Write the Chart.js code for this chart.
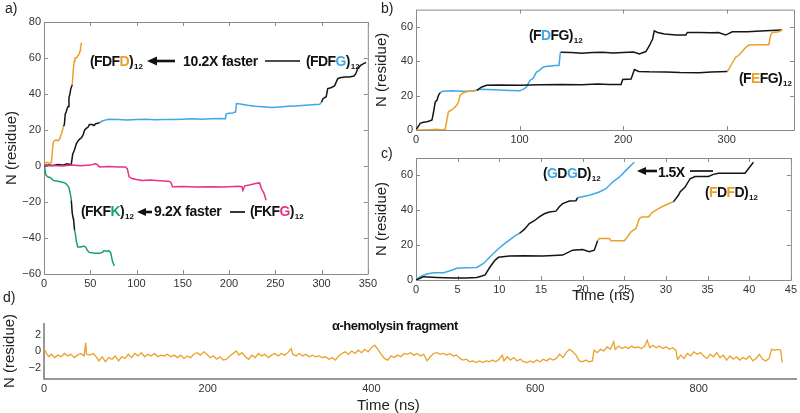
<!DOCTYPE html>
<html>
<head>
<meta charset="utf-8">
<script src="https://cdn.jsdelivr.net/npm/chart.js@4.4.1/dist/chart.umd.min.js"></script>
<style>
body { margin: 0; background: #fff; width: 800px; height: 413px; overflow: hidden; position: relative; font-family: "Liberation Sans", Arial, sans-serif; }
canvas { position: absolute; }
.t { position: absolute; white-space: nowrap; font-weight: bold; font-size: 14px; letter-spacing: -0.6px; line-height: 14px; color: #111; }
.t sub { font-size: 8px; vertical-align: baseline; position: relative; top: 3px; letter-spacing: 0; margin-left: 1px; }
.p { position: absolute; font-size: 14px; line-height: 14px; color: #222; }
.ax { position: absolute; font-size: 15px; line-height: 15px; color: #222; white-space: nowrap; }
.o { color: #EBA02A; } .b { color: #3FA9E6; } .m { color: #E8308A; } .g { color: #1A9E7A; }
svg { position: absolute; left: 0; top: 0; pointer-events: none; }
</style>
</head>
<body>
<canvas id="chartA" width="380" height="300" style="left:0;top:0"></canvas>
<canvas id="chartB" width="430" height="145" style="left:370px;top:0"></canvas>
<canvas id="chartC" width="430" height="160" style="left:370px;top:145px"></canvas>
<canvas id="chartD" width="800" height="113" style="left:0;top:300px"></canvas>

<div class="p" style="left:5px;top:1px">a)</div>
<div class="p" style="left:381px;top:1px">b)</div>
<div class="p" style="left:381px;top:146px">c)</div>
<div class="p" style="left:3px;top:290px">d)</div>

<div class="t" style="left:90px;top:54px">(FDF<span class="o">D</span>)<sub>12</sub></div>
<div class="t" style="left:183px;top:54px;letter-spacing:-0.3px">10.2X faster</div>
<div class="t" style="left:306px;top:54px">(FDF<span class="b">G</span>)<sub>12</sub></div>
<div class="t" style="left:81px;top:204px">(FKF<span class="g">K</span>)<sub>12</sub></div>
<div class="t" style="left:154px;top:204px;letter-spacing:-0.3px">9.2X faster</div>
<div class="t" style="left:250px;top:204px">(FKF<span class="m">G</span>)<sub>12</sub></div>
<div class="t" style="left:529px;top:28px">(F<span class="b">D</span>FG)<sub>12</sub></div>
<div class="t" style="left:739px;top:71px">(F<span class="o">E</span>FG)<sub>12</sub></div>
<div class="t" style="left:543px;top:166px">(<span class="b">G</span>D<span class="b">G</span>D)<sub>12</sub></div>
<div class="t" style="left:658px;top:165px">1.5X</div>
<div class="t" style="left:705px;top:185px">(<span class="o">F</span>D<span class="o">F</span>D)<sub>12</sub></div>
<div class="t" style="left:332px;top:319px;font-size:13px;letter-spacing:-0.5px">α-hemolysin fragment</div>
<div class="ax" style="left:357px;top:397px">Time (ns)</div>

<svg width="800" height="413">
  <polygon points="147,61 157,56.5 157,65.5" fill="#111"/>
  <line x1="155" y1="61" x2="175" y2="61" stroke="#111" stroke-width="2.6"/>
  <line x1="265" y1="61" x2="300" y2="61" stroke="#111" stroke-width="1.7"/>
  <polygon points="137,212 146,208 146,216" fill="#111"/>
  <line x1="144" y1="212" x2="152" y2="212" stroke="#111" stroke-width="2.6"/>
  <line x1="230" y1="212" x2="245" y2="212" stroke="#111" stroke-width="1.7"/>
  <polygon points="637,171 646,167 646,175" fill="#111"/>
  <line x1="644" y1="171" x2="657" y2="171" stroke="#111" stroke-width="2.6"/>
  <line x1="690" y1="171" x2="713" y2="171" stroke="#111" stroke-width="1.7"/>
</svg>

<script>
// ---- panel a : [time (ns), N (residue)]
const aFdfdOrange1 = [[0,1],[3,2],[6,1.5],[8,2],[9,8],[10,13],[11,14],[13,14.5],[15,14],[17,15],[18,17],[19,18],[20,20],[21,22]];
const aFdfdBlack = [[21,22],[22,23],[23,29],[24,30],[25,32],[26,33],[27,38],[28,40],[29,43],[30.5,45]];
const aFdfdOrange2 = [[30.5,45],[31.5,52],[32.5,58],[33.5,60],[35,60],[37,61.5],[38,62],[39,64],[39.5,66],[40.5,68.5]];
const aFdfgBlack1 = [[0,0.3],[5,0.5],[10,0.3],[15,0.8],[20,0.5],[25,1.2],[28,0.8],[29.5,1],[31,6.5],[33,9],[35,12.5],[37,14],[38.5,15],[40,15.5],[42,17],[44,20],[46,21],[47.5,21.5],[49,23],[52,23],[54,22.5],[56,23.5],[60,24]];
const aFdfgBlue = [[60,24],[63,25],[66,25.5],[70,26],[80,25.8],[90,25.6],[100,25.8],[110,26],[120,25.7],[130,25.9],[140,25.8],[150,26],[160,26.2],[170,26],[180,26.3],[190,26.4],[196,26.3],[197,29],[200,29.3],[204,29.5],[207,30],[208,34.7],[212,34.5],[220,33.8],[228,33.2],[240,32.8],[246,32.5],[255,32.8],[264,33.2],[272,33.4],[282,33.7],[290,34],[298,34.3],[300,35.5]];
const aFdfgBlack2 = [[300,35.5],[301.5,37.4],[305,38.5],[306.7,43],[310,43.5],[314,44.5],[317.5,48.5],[320,49],[325,49.5],[330,49.5],[335,50],[337,51.3],[339,54],[342.5,56],[346,57],[348,57.5]];
const aFkfgPink = [[0,0],[10,0.3],[20,0],[30,0.5],[40,0.2],[50,0.5],[55,1.2],[57,1],[60,-0.5],[70,-0.3],[80,-0.6],[88,-0.5],[90,-1.5],[92,-6],[95,-7],[100,-7.5],[106,-8],[115,-7.8],[125,-8.2],[135,-8.5],[137,-9],[139,-11.5],[150,-11.4],[165,-11.7],[180,-11.5],[195,-11.6],[210,-11.3],[214,-11.5],[215,-13.5],[217,-11],[222,-10.5],[230,-9.6],[233,-9.4],[235,-12.5],[238,-15.5],[240,-19]];
const aFkfkGreen1 = [[0,0],[1,-2],[2,-5],[4,-6],[7,-6.5],[10,-8],[15,-8.5],[20,-9],[23,-9.5],[25,-10.5],[27,-12],[28,-14.5],[29,-17],[29.5,-19]];
const aFkfkBlack = [[29.5,-19],[30.5,-26],[31.5,-29],[32,-30],[33,-35.5]];
const aFkfkGreen2 = [[33,-35.5],[34,-38],[35,-42],[36.5,-45],[40,-45],[43,-44.5],[45,-45],[47,-47],[49,-48],[55,-48.5],[60,-48.5],[63,-48],[65,-47],[68,-47.5],[70,-47],[72,-48],[74,-53],[76,-55.5]];

// ---- panel b
const bFdfgBlack1 = [[0,0],[1,1],[4,3.9],[7,4.5],[10.6,4.8],[13,5.2],[15.4,5.8],[17,10.6],[18.6,16.3],[20.2,17.3],[21.7,20.2],[23.4,21.7]];
const bFdfgBlue = [[23.4,21.7],[26,22.5],[35,22.8],[45,22.5],[55,22.7],[62,23.7],[70,23.5],[80,23.2],[90.7,23],[100,22.8],[103,23.5],[106.7,25],[108,26.5],[110,28.8],[113,30],[116.3,33.7],[119,34.5],[122.7,36.5],[126,37],[129,37],[134,37.5],[138.1,37.5],[139.4,45.2]];
const bFdfgBlack2 = [[139.4,45.2],[150,45],[160,44.6],[170,45],[180,45.2],[190,44.8],[200,45],[210,45.3],[215.7,44.2],[222,45.6],[225.3,49],[228.5,52.9],[230.1,57.7],[233.3,56.7],[240,55.8],[251,55.2],[260.6,55.2],[262.1,56.7],[273.4,56.7],[285,56.5],[292,56.7],[299,55.2],[305.4,57.1],[320,57.1],[337.5,57.7],[353.5,58.1]];
const bFefgOrange1 = [[0,0],[10,0],[20,0.5],[25,0],[28.2,0.4],[29.8,5.8],[31.3,10.6],[34,11.5],[36.2,12.5],[39.4,14.4],[41,16.3],[42.6,20.2],[45.8,21.7],[50.6,22.5],[55,22.8],[58.7,23]];
const bFefgBlack = [[58.7,23],[63.5,25],[68.3,26],[80,26.2],[100,26],[120,26.3],[140,26.5],[160,26.3],[175,26.8],[186.8,26.5],[198,26.5],[199.6,29.4],[207.7,29.6],[210.9,35.2],[215,34],[225,33.8],[241.3,33.7],[255,33.4],[273.4,33.3],[285,33.7],[300.6,34]];
const bFefgOrange2 = [[300.6,34],[302.2,35.6],[304,37.5],[308.7,42.3],[312,43.6],[318.3,48],[321.4,49.4],[330,49.6],[340.7,49.6],[342.3,54.8],[343.9,56.7],[350.3,57.1],[353.5,58.1]];

// ---- panel c
const cGdgdBlue1 = [[0,0],[0.5,1.9],[1.3,3.4],[2.1,4.2],[3.3,4.2],[4.1,5.3],[4.9,6.7],[6,7],[7.3,7.2],[8.1,9.5],[8.9,13.3],[9.7,17.1],[10.4,20],[11.2,22.9],[12,25.7],[12.4,26.7]];
const cGdgdBlack = [[12.4,26.7],[13,29],[13.6,32.4],[14.2,34],[14.8,36.2],[15.4,38],[16,39],[16.8,39.5],[17.2,42],[17.6,43.8],[18.4,45.3],[19.2,45.5],[19.4,47.2]];
const cGdgdBlue2 = [[19.4,47.2],[20.8,48.6],[22,50.5],[22.8,52.4],[23.6,56.2],[24.4,59],[25.2,62.9],[26,66.7],[26.2,67.6]];
const cFdfdBlack1 = [[0,0],[0.5,1],[0.9,1.9],[2.5,1.5],[4.5,1.1],[6,1.2],[7.3,1.5],[7.9,2.3],[8.3,2.9],[8.9,7.6],[9.5,11.4],[9.9,13],[11.2,13.7],[13,13.9],[15.2,13.7],[16.5,14],[17.6,14.3],[18.8,17.1],[20,17.5],[20.8,16.2],[21.4,17.1],[21.8,22.5]];
const cFdfdOrange = [[21.8,22.5],[22,23.8],[23.2,23.8],[23.4,22.5],[25,22.5],[25.4,24.8],[25.8,27.6],[26.4,29.5],[26.8,35.2],[27.1,36.2],[27.9,36.2],[28.3,38.5],[29.1,41],[29.9,42.9],[30.5,44.2],[30.9,44.8]];
const cFdfdBlack2 = [[30.9,44.8],[31.5,48.6],[31.7,50.5],[32.3,53.3],[32.9,58.1],[33.5,59.4],[35.1,59.4],[35.7,60.6],[36.3,61.3],[39.5,61.3],[39.9,63.8],[40.5,67.6]];

// ---- panel d
const dTime = [0,3,6,9,13,17,21,25,29,33,37,41,45,49,51,52,56,60,63,67,71,75,79,83,87,91,95,99,103,107,111,115,119,123,127,131,135,139,143,147,151,155,159,163,167,171,175,179,183,187,191,195,199,203,207,211,215,219,223,227,231,235,238,242,246,250,254,258,262,266,270,274,278,282,286,290,294,298,302,304,308,312,316,320,324,328,332,336,340,344,348,352,356,360,364,368,372,376,380,384,388,392,396,400,404,408,412,416,420,424,428,432,436,440,444,448,452,456,460,464,468,472,476,480,484,488,492,496,500,504,508,512,516,520,524,528,532,536,540,544,548,552,556,560,562,566,570,574,578,582,586,590,594,598,602,606,610,614,618,622,626,630,634,638,642,646,650,654,658,662,666,670,672,676,680,684,688,692,696,698,702,706,710,714,718,722,726,730,734,737,740,744,748,752,756,760,764,768,772,774,778,782,786,790,794,798,802,806,810,814,818,822,826,830,834,838,842,846,850,854,858,862,866,870,874,878,882,886,889,893,897,900,902];
const dN = [0.3,-0.3,-0.7,-0.4,-0.8,-0.5,-0.7,-0.3,-0.6,-0.4,-0.8,-0.5,-0.3,-0.6,1.0,-0.4,-0.5,-0.3,-0.6,-1.2,-0.7,-1.3,-0.8,-1.0,-0.6,-1.2,-0.7,-0.9,-0.4,-0.8,-0.3,-0.6,-0.2,-0.7,-0.4,-0.6,-0.3,-0.7,-0.5,-0.6,-0.4,-0.7,-0.5,-0.8,-0.5,-0.9,-0.6,-0.8,-0.4,-0.2,-0.5,-0.1,-0.4,-0.8,-0.6,-1.0,-0.7,-1.1,-1.0,-0.6,-0.3,0.0,-0.5,-0.2,-0.7,-1.0,-0.5,-0.8,-0.3,-0.6,-0.4,-0.8,-0.5,-0.3,-0.6,-0.3,-0.5,-0.2,0.3,-0.4,-0.6,-0.3,-0.6,-0.4,-0.7,-0.5,-0.7,-0.6,-0.8,-0.7,-1.0,-0.8,-1.1,-0.6,-0.3,-0.1,-0.4,0.0,-0.3,0.1,-0.2,0.2,-0.1,0.4,0.7,0.2,-0.4,-0.9,-1.1,-0.6,-0.8,-0.5,-0.7,-0.3,-0.4,-0.2,-0.5,-0.3,-0.6,-0.4,-1.2,-0.7,-0.3,-0.2,-0.4,-0.3,-0.5,-0.3,-0.6,-0.5,-0.9,-1.1,-1.0,-1.3,-1.2,-1.4,-1.2,-1.4,-1.2,-1.3,-1.1,-1.3,-1.0,-0.5,-1.2,-0.7,-1.1,-0.8,-1.2,-1.0,-1.3,-1.4,-1.2,-1.4,-1.1,-1.3,-1.0,-1.2,-0.9,-1.1,-0.9,-0.4,-0.8,-0.2,0.2,-0.1,-0.5,-1.2,-1.3,-1.1,-1.3,-1.2,0.1,-0.2,0.2,0.0,0.5,0.2,1.1,0.2,0.6,0.3,0.5,0.3,0.6,0.4,0.5,0.3,0.6,1.3,0.4,0.7,0.4,0.6,0.3,0.5,0.2,0.4,0.1,-1.0,-0.5,-0.9,-0.3,-0.6,-0.1,-0.4,-0.2,-0.6,-0.9,-0.4,-0.7,-0.2,-0.8,-0.5,-1.1,-0.6,-1.0,-0.7,-1.1,-0.8,-1.0,-0.6,-1.2,-0.9,-0.4,-1.0,-1.2,-0.9,0.2,0.1,0.2,0.1,-1.4];

// ---- tick labels
const aXTicks = [0, 50, 100, 150, 200, 250, 300, 350];
const aYTicks = [-60, -40, -20, 0, 20, 40, 60, 80];
const bXTicks = [0, 100, 200, 300];
const bYTicks = [0, 20, 40, 60];
const cXTicks = [0, 5, 10, 15, 20, 25, 30, 35, 40, 45];
const cYTicks = [0, 20, 40, 60];
const dXTicks = [0, 200, 400, 600, 800];
const dYTicks = [-2, 0, 2];

const BLACK = "#151515", ORANGE = "#EBA02A", BLUE = "#3FA9E6", PINK = "#E8308A", GREEN = "#1A9E7A";

Chart.defaults.font.family = '"Liberation Sans", Arial, sans-serif';
Chart.defaults.color = "#333";

// box with inward tick marks (Matlab style) or plain L-shaped axes
const framePlugin = {
    id: "frame",
    beforeDatasetsDraw(chart, args, opts) {
        const { ctx, chartArea: a, scales } = chart;
        ctx.save();
        ctx.strokeStyle = opts.color || "#8a8a8a";
        ctx.lineWidth = opts.width || 1;
        ctx.beginPath();
        if (opts.box) {
            ctx.rect(a.left + 0.5, a.top + 0.5, a.right - a.left, a.bottom - a.top);
            scales.x.ticks.forEach(t => {
                const px = Math.round(scales.x.getPixelForValue(t.value)) + 0.5;
                ctx.moveTo(px, a.bottom); ctx.lineTo(px, a.bottom - 4);
                ctx.moveTo(px, a.top); ctx.lineTo(px, a.top + 4);
            });
            scales.y.ticks.forEach(t => {
                const py = Math.round(scales.y.getPixelForValue(t.value)) + 0.5;
                ctx.moveTo(a.left, py); ctx.lineTo(a.left + 4, py);
                ctx.moveTo(a.right, py); ctx.lineTo(a.right - 4, py);
            });
        } else {
            ctx.moveTo(a.left, a.top); ctx.lineTo(a.left, a.bottom); ctx.lineTo(a.right, a.bottom);
        }
        ctx.stroke();
        ctx.restore();
    }
};

function seg(pts, color) {
    return {
        data: pts.map(p => ({ x: p[0], y: p[1] })),
        borderColor: color,
        borderWidth: 1.5,
        pointRadius: 0,
        tension: 0,
        fill: false
    };
}

function fmt(v) {
    return String(v).replace("-", "\u2212");
}

function panelConfig(datasets, o) {
    return {
        type: "line",
        data: { datasets: datasets },
        options: {
            responsive: false,
            animation: false,
            devicePixelRatio: 1,
            layout: { padding: o.pad },
            plugins: { legend: { display: false }, tooltip: { enabled: false }, frame: { box: o.box, color: o.frameColor, width: o.frameWidth } },
            scales: {
                x: {
                    type: "linear",
                    min: o.xMin, max: o.xMax,
                    afterBuildTicks: s => { s.ticks = o.xTicks.map(v => ({ value: v })); },
                    afterFit: s => { s.height = o.xH; },
                    grid: { display: false, drawTicks: false },
                    border: { display: false },
                    ticks: { autoSkip: false, maxRotation: 0, padding: 3, font: { size: 11 }, color: "#333", callback: fmt },
                    title: o.xTitle ? { display: true, text: o.xTitle, font: { size: 15 }, color: "#222", padding: 0 } : { display: false }
                },
                y: {
                    type: "linear",
                    min: o.yMin, max: o.yMax,
                    afterBuildTicks: s => { s.ticks = o.yTicks.map(v => ({ value: v })); },
                    afterFit: s => { s.width = o.yW; },
                    grid: { display: false, drawTicks: false },
                    border: { display: false },
                    ticks: { autoSkip: false, padding: 3, font: { size: 11 }, color: "#333", callback: fmt },
                    title: { display: true, text: "N (residue)", font: { size: 15 }, color: "#222", padding: { top: o.yTitlePad, bottom: 0 } }
                }
            }
        },
        plugins: [framePlugin]
    };
}

new Chart(document.getElementById("chartA"), panelConfig([
    seg(aFkfgPink, PINK),
    seg(aFdfgBlack1, BLACK), seg(aFdfgBlue, BLUE), seg(aFdfgBlack2, BLACK),
    seg(aFkfkGreen1, GREEN), seg(aFkfkBlack, BLACK), seg(aFkfkGreen2, GREEN),
    seg(aFdfdOrange1, ORANGE), seg(aFdfdBlack, BLACK), seg(aFdfdOrange2, ORANGE)
], { xMin: 0, xMax: 350, yMin: -60, yMax: 80, xTicks: aXTicks, yTicks: aYTicks, yW: 44, xH: 26, pad: { left: 0, right: 10, top: 22, bottom: 0 }, box: true, yTitlePad: 3 }));

new Chart(document.getElementById("chartB"), panelConfig([
    seg(bFefgOrange1, ORANGE), seg(bFefgBlack, BLACK), seg(bFefgOrange2, ORANGE),
    seg(bFdfgBlack1, BLACK), seg(bFdfgBlue, BLUE), seg(bFdfgBlack2, BLACK)
], { xMin: 0, xMax: 365, yMin: 0, yMax: 70, xTicks: bXTicks, yTicks: bYTicks, yW: 46, xH: 15, pad: { left: 0, right: 6, top: 8, bottom: 0 }, box: true, yTitlePad: 3 }));

new Chart(document.getElementById("chartC"), panelConfig([
    seg(cFdfdBlack1, BLACK), seg(cFdfdOrange, ORANGE), seg(cFdfdBlack2, BLACK),
    seg(cGdgdBlue1, BLUE), seg(cGdgdBlack, BLACK), seg(cGdgdBlue2, BLUE)
], { xMin: 0, xMax: 45, yMin: 0, yMax: 70, xTicks: cXTicks, yTicks: cYTicks, yW: 46, xH: 25, pad: { left: 0, right: 7, top: 13, bottom: 0 }, box: true, yTitlePad: 3, xTitle: "Time (ns)" }));

new Chart(document.getElementById("chartD"), panelConfig([
    { data: dTime.map((t, i) => ({ x: t, y: dN[i] })), borderColor: ORANGE, borderWidth: 1.3, pointRadius: 0, tension: 0, fill: false }
], { xMin: 0, xMax: 920, yMin: -3.4, yMax: 3.4, xTicks: dXTicks, yTicks: dYTicks, yW: 44, xH: 34, pad: { left: 0, right: 3, top: 23, bottom: 0 }, box: false, frameColor: "#777", frameWidth: 1.5, yTitlePad: 1 }));
</script>
</body>
</html>
